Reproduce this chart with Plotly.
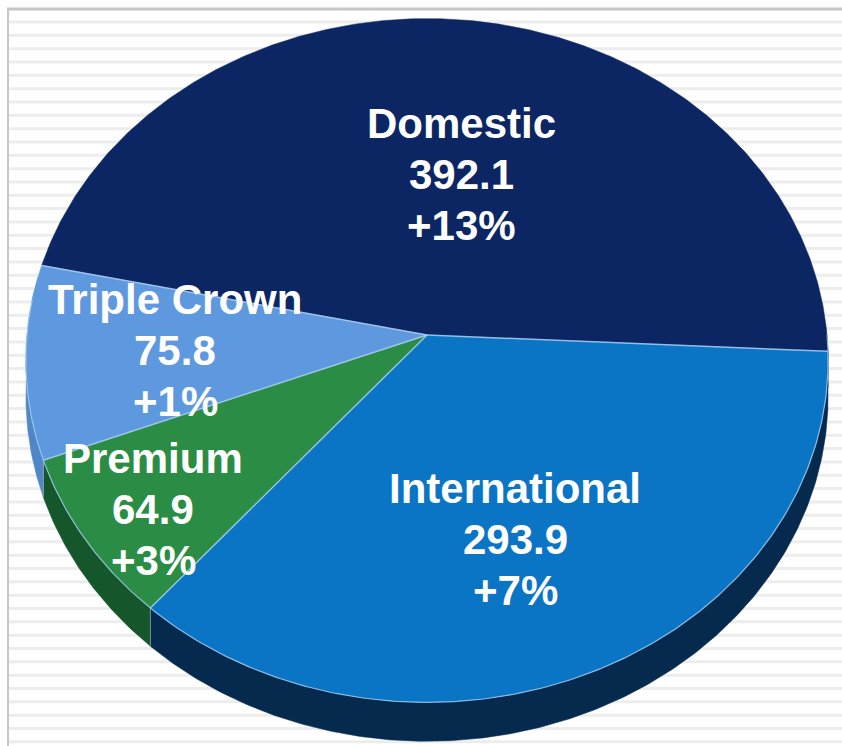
import math
import plotly.graph_objects as go

# ---------------- data ----------------
categories = ["Domestic", "International", "Premium", "Triple Crown"]
values = [392.1, 293.9, 64.9, 75.8]
changes = ["+13%", "+7%", "+3%", "+1%"]

# ---------------- styling / geometry ----------------
top_colors = ["#0B2662", "#0A74C5", "#2B8D45", "#5E98DE"]
side_colors = ["#071A45", "#052A4D", "#15562A", "#5087C8"]
label_pos = [(461, 174), (515, 539), (153, 509), (175, 350)]
LINE_GAP = 51
FONT_SIZE = 42

W, H = 842, 746
CX, CY = 427, 335        # projected centre (apex)
A = 400                  # horizontal radius
S = 0.85                 # vertical squash (tilt)
K = 0.0745               # perspective strength
DEPTH = 36               # thickness of the pie
START = 168.0            # angle (deg) where first slice starts, going clockwise


def proj(theta_deg, drop=0.0, r=1.0):
    t = math.radians(theta_deg)
    den = 1 + K * r * math.sin(t)
    x = CX + A * r * math.cos(t) / den
    y = CY - A * S * r * math.sin(t) / den + drop / den
    return x, y


def arc(t0, t1, drop=0.0, n=None):
    if n is None:
        n = max(2, int(abs(t1 - t0) * 2) + 1)
    return [proj(t0 + (t1 - t0) * i / (n - 1), drop) for i in range(n)]


total = sum(values)
bounds = []
a = START
for v in values:
    b = a - 360.0 * v / total
    bounds.append((a, b))
    a = b

fig = go.Figure()

# side bands (visible front part only)
FRONT_LO, FRONT_HI = -190.0, 0.0
for i, (a0, a1) in enumerate(bounds):
    for shift in (0.0, -360.0, 360.0):
        hi = min(a0 + shift, FRONT_HI)
        lo = max(a1 + shift, FRONT_LO)
        if hi - lo <= 0.01:
            continue
        upper = arc(hi, lo)
        lower = arc(lo, hi, DEPTH)
        pts = upper + lower + [upper[0]]
        fig.add_trace(go.Scatter(
            x=[p[0] for p in pts], y=[p[1] for p in pts],
            mode="lines", fill="toself", fillcolor=side_colors[i],
            line=dict(width=0.5, color=side_colors[i]), hoverinfo="skip", showlegend=False))

# top faces
for i, (a0, a1) in enumerate(bounds):
    pts = [(CX, CY)] + arc(a0, a1) + [(CX, CY)]
    fig.add_trace(go.Scatter(
        x=[p[0] for p in pts], y=[p[1] for p in pts],
        mode="lines", fill="toself", fillcolor=top_colors[i],
        line=dict(width=0.5, color=top_colors[i]),
        hoverinfo="skip", showlegend=False, name=categories[i]))

# separator lines on the top face
edge_col = "rgba(170,205,240,0.85)"
for (a0, a1) in bounds:
    x1, y1 = proj(a0)
    fig.add_trace(go.Scatter(x=[CX, x1], y=[CY, y1], mode="lines",
                             line=dict(width=1.5, color=edge_col),
                             hoverinfo="skip", showlegend=False))
    aa = a0 if a0 <= 180 else a0 - 360
    if FRONT_LO + 8 < aa < FRONT_HI - 5:
        x2, y2 = proj(aa, DEPTH)
        fig.add_trace(go.Scatter(x=[x1, x2], y=[y1, y2], mode="lines",
                                 line=dict(width=1, color="rgba(150,170,190,0.7)"),
                                 hoverinfo="skip", showlegend=False))

# front rim highlight
rim = arc(-186, 0)
fig.add_trace(go.Scatter(x=[p[0] for p in rim], y=[p[1] for p in rim], mode="lines",
                         line=dict(width=1.2, color="rgba(160,200,235,0.85)"),
                         hoverinfo="skip", showlegend=False))

# labels (one annotation per line for tighter line spacing)
for i, cat in enumerate(categories):
    x, y = label_pos[i]
    lines = [cat, f"{values[i]:.1f}", changes[i]]
    for j, txt in enumerate(lines):
        fig.add_annotation(x=x, y=y + (j - 1) * LINE_GAP, xref="x", yref="y",
                           text=txt, showarrow=False, xanchor="center", yanchor="middle",
                           font=dict(family="Liberation Sans, Arial, sans-serif",
                                     size=FONT_SIZE, color="white", weight="bold"))

# background stripes and frame
shapes = []
y = 22.0
while y < H:
    shapes.append(dict(type="line", xref="x", yref="y", x0=9, x1=W, y0=y, y1=y,
                       line=dict(color="#EDEDED", width=3), layer="below"))
    y += 13.33
shapes.append(dict(type="line", xref="x", yref="y", x0=7, x1=W, y0=9, y1=9,
                   line=dict(color="#C6C6C6", width=3), layer="below"))
shapes.append(dict(type="line", xref="x", yref="y", x0=8, x1=8, y0=8, y1=H,
                   line=dict(color="#C6C6C6", width=2), layer="below"))

fig.update_layout(
    width=W, height=H,
    margin=dict(l=0, r=0, t=0, b=0),
    paper_bgcolor="white", plot_bgcolor="white",
    xaxis=dict(range=[0, W], visible=False, fixedrange=True),
    yaxis=dict(range=[H, 0], visible=False, fixedrange=True),
    shapes=shapes,
    showlegend=False,
)

fig.write_html("out.html")
